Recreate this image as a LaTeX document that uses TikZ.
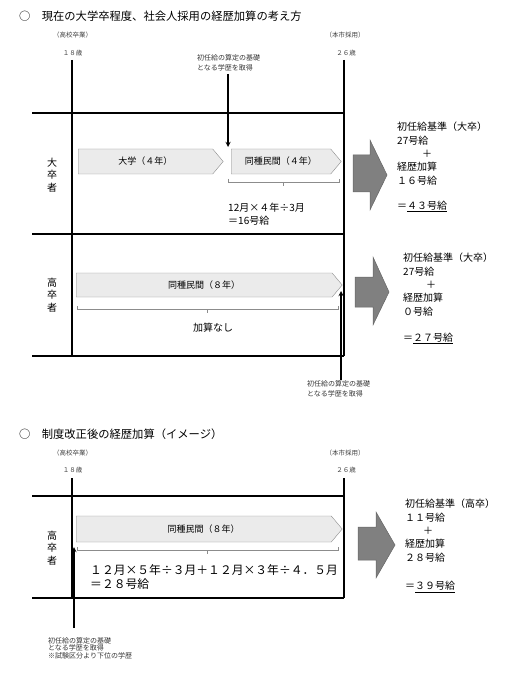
\documentclass[tikz,border=0pt]{standalone}
\usepackage{fontspec}
\setmainfont{Noto Sans CJK JP}
\usetikzlibrary{arrows,positioning,shapes.symbols}

\begin{document}
\begin{tikzpicture}[
    x=1pt, y=-1pt,
    font=\fontsize{10}{13.5}\selectfont,
    % stili
    title/.style={anchor=west, inner sep=0pt, font=\fontsize{11.3}{13}\selectfont},
    agelabel/.style={inner sep=0pt, text=black!75, font=\fontsize{6.5}{8}\selectfont},
    note/.style={anchor=north west, inner sep=0pt, align=left, text=black!80, font=\fontsize{7}{10}\selectfont},
    rowlabel/.style={inner sep=0pt, align=center, font=\fontsize{10}{12.5}\selectfont},
    period/.style={signal, signal to=east, signal pointer angle=100, anchor=west, draw=black!45, fill=black!8, inner sep=0pt, font=\fontsize{9}{11}\selectfont},
    calc/.style={anchor=north west, inner sep=0pt, align=left, font=\fontsize{10}{13}\selectfont},
    result/.style={anchor=north west, inner sep=0pt, align=left, font=\fontsize{10}{13.4}\selectfont},
    grid/.style={line width=1.8pt},
    bracket/.style={draw=black!45, line width=0.6pt},
    bigarrow/.style={draw=black!60, fill=black!50, line width=0.5pt},
    arrow/.style={line width=1.3pt, ->, >=stealth}
]
\useasboundingbox (0,0) rectangle (510,676);

% --- parte 1: situazione attuale ---
\node (title1) [title] at (19,16) {○　現在の大学卒程度、社会人採用の経歴加算の考え方};
\node (grad1) [agelabel] at (72.5,35) {（高校卒業）};
\node (age18a) [agelabel] at (72.5,53) {１８歳};
\node (hire1) [agelabel] at (345,35) {（本市採用）};
\node (age26a) [agelabel] at (346,53) {２６歳};

% tabella
\draw[grid] (32,113) -- (344,113);
\draw[grid] (32,234) -- (344,234);
\draw[grid] (32,356) -- (344,356);
\draw[grid] (72,60) -- (72,356);
\draw[grid] (344,60) -- (344,356);

% riga universitari
\node (univ) [rowlabel] at (52,175) {大\\卒\\者};
\node (study) [period, minimum width=145pt, minimum height=25pt] at (78,161.5) {大学（４年）};
\node (work4) [period, minimum width=110pt, minimum height=25pt] at (231,161.5) {同種民間（４年）};
\draw[bracket] (228,179) -- (228,182) -- (339,182) -- (339,179);
\draw[bracket] (283,182) -- (283,186);
\node (calc1) [calc] at (228,203) {12月×４年÷3月\\＝16号給};

\node (note1) [note] at (197,54) {初任給の算定の基礎\\となる学歴を取得};
\coordinate (got1) at (228,147);
\draw[arrow] ([yshift=-3pt]note1.south -| got1) -- (got1);

% riga diplomati
\node (high1) [rowlabel] at (52,295) {高\\卒\\者};
\node (work8a) [period, minimum width=266pt, minimum height=24pt] at (76,285) {同種民間（８年）};
\draw[bracket] (77,306) -- (77,309) -- (338,309) -- (338,306);
\draw[bracket] (207,309) -- (207,313);
\node (none) at (213,328) {加算なし};

\node (note2) [note] at (307,380) {初任給の算定の基礎\\となる学歴を取得};
\coordinate (got2) at (341,291);
\draw[arrow] (note2.north -| got2) -- (got2);

% frecce e risultati
\draw[bigarrow] (353,155) -- (370,155) -- (370,140) -- (387,175) -- (370,210) -- (370,192) -- (353,192) -- cycle;
\node (res1) [result] at (397,122) {初任給基準（大卒）\\27号給\\\hspace*{25pt}＋\\経歴加算\\１６号給\\[11.5pt]＝\underline{４３号給}};

\draw[bigarrow] (355,277) -- (373,277) -- (373,257) -- (389,292) -- (373,325) -- (373,307) -- (355,307) -- cycle;
\node (res2) [result] at (403,253) {初任給基準（大卒）\\27号給\\\hspace*{23pt}＋\\経歴加算\\０号給\\[12.5pt]＝\underline{２７号給}};

% --- parte 2: dopo la riforma ---
\node (title2) [title] at (19,434) {○　制度改正後の経歴加算（イメージ）};
\node (grad2) [agelabel] at (72.5,453) {（高校卒業）};
\node (age18b) [agelabel] at (72.5,470) {１８歳};
\node (hire2) [agelabel] at (345,453) {（本市採用）};
\node (age26b) [agelabel] at (346,470) {２６歳};

\draw[grid] (32,496) -- (344,496);
\draw[grid] (32,598) -- (344,598);
\draw[grid] (72,478) -- (72,598);
\draw[grid] (344,478) -- (344,598);

\node (high2) [rowlabel] at (52,548) {高\\卒\\者};
\node (work8b) [period, minimum width=266pt, minimum height=26pt] at (76,529) {同種民間（８年）};
\draw[bracket] (77,547) -- (77,550) -- (338,550) -- (338,547);
\draw[bracket] (207,550) -- (207,554);
\node (calc3) [calc, font=\fontsize{11.8}{14}\selectfont] at (90,564) {１２月×５年÷３月＋１２月×３年÷４．５月\\＝２８号給};

\node (note3) [note, font=\fontsize{7}{7.5}\selectfont] at (48,637) {初任給の算定の基礎\\となる学歴を取得\\※試験区分より下位の学歴};
\coordinate (got3) at (74,547);
\draw[arrow] ([yshift=9pt]note3.north -| got3) -- (got3);

\draw[bigarrow] (358,527) -- (376,527) -- (376,512) -- (395,545) -- (376,578) -- (376,560) -- (358,560) -- cycle;
\node (res3) [result] at (405,499) {初任給基準（高卒）\\１１号給\\\hspace*{18pt}＋\\経歴加算\\２８号給\\[15pt]＝\underline{３９号給}};

\end{tikzpicture}
\end{document}
